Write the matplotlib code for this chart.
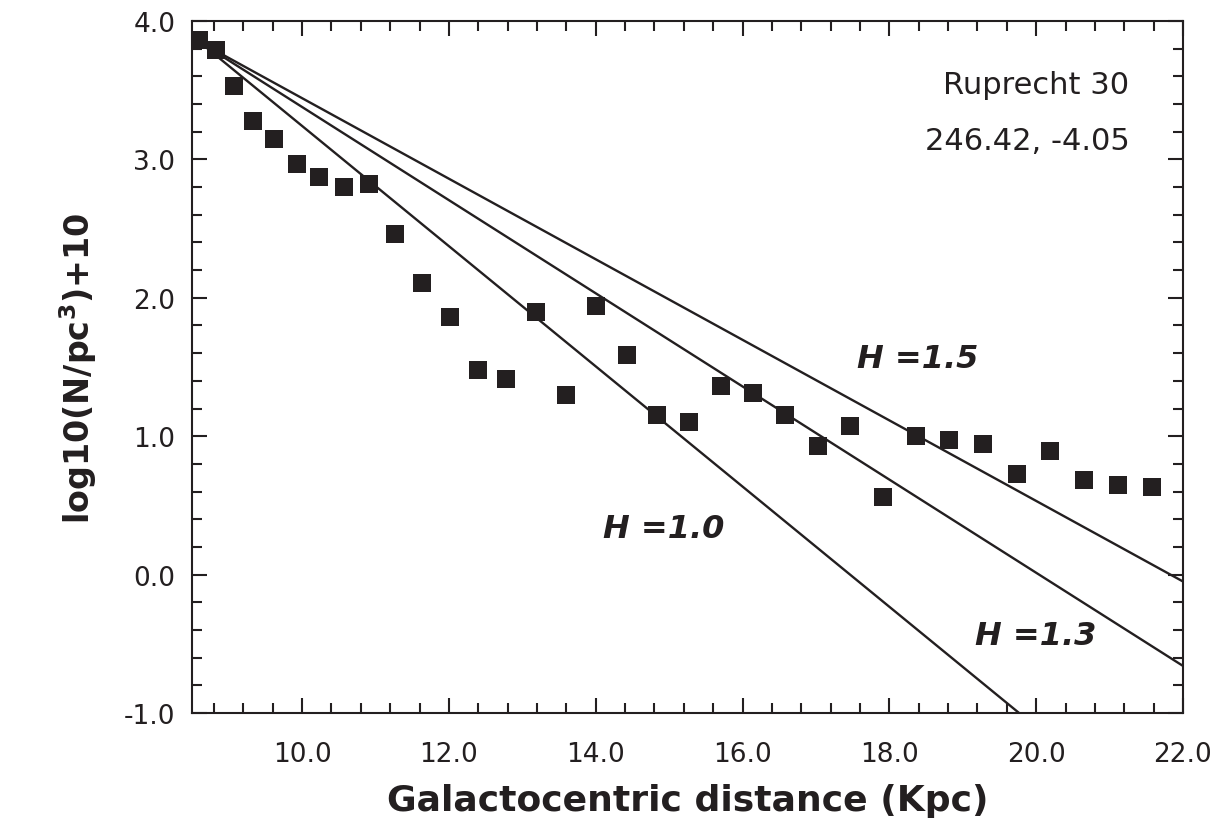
import matplotlib
matplotlib.use('Agg')
import matplotlib.pyplot as plt
from matplotlib.ticker import MultipleLocator, FormatStrFormatter

plt.rcParams['font.family'] = ['DejaVu Sans']
plt.rcParams['mathtext.fontset'] = 'dejavusans'

INK = '#231f20'

# observed density points (Ruprecht 30 direction)
dist = [8.59, 8.83, 9.07, 9.33, 9.62, 9.93, 10.23, 10.57, 10.91, 11.27,
        11.64, 12.01, 12.39, 12.78, 13.19, 13.59, 14.00, 14.42, 14.84, 15.27,
        15.70, 16.14, 16.58, 17.03, 17.46, 17.91, 18.36, 18.81, 19.28, 19.74,
        20.19, 20.65, 21.12, 21.58]
logn = [3.86, 3.79, 3.53, 3.28, 3.15, 2.97, 2.87, 2.80, 2.82, 2.46,
        2.11, 1.86, 1.48, 1.41, 1.90, 1.30, 1.94, 1.59, 1.15, 1.10,
        1.36, 1.31, 1.15, 0.93, 1.07, 0.56, 1.00, 0.97, 0.94, 0.73,
        0.89, 0.68, 0.65, 0.63]

# model lines (endpoints), scale lengths H
line_x = [8.6, 22.0]
line_h10 = [3.85, -1.97]
line_h13 = [3.85, -0.66]
line_h15 = [3.85, -0.05]

fig = plt.figure(figsize=(12.25, 8.37), dpi=100)
ax = fig.add_axes([0.1567, 0.1470, 0.8090, 0.8267])

for ys in (line_h10, line_h13, line_h15):
    ax.plot(line_x, ys, color=INK, linewidth=1.7, zorder=2)

ax.plot(dist, logn, 's', color=INK, markersize=13, markeredgewidth=0, zorder=3)

ax.set_xlim(8.5, 22.0)
ax.set_ylim(-1.0, 4.0)
ax.xaxis.set_major_locator(MultipleLocator(2.0))
ax.xaxis.set_minor_locator(MultipleLocator(0.4))
ax.yaxis.set_major_locator(MultipleLocator(1.0))
ax.yaxis.set_minor_locator(MultipleLocator(0.2))
ax.xaxis.set_major_formatter(FormatStrFormatter('%.1f'))
ax.yaxis.set_major_formatter(FormatStrFormatter('%.1f'))

ax.tick_params(which='both', direction='in', top=True, right=True,
               colors=INK, width=1.5)
ax.tick_params(which='major', length=10.8, labelsize=19)
ax.tick_params(axis='x', which='major', pad=20)
ax.tick_params(axis='y', which='major', pad=12)
ax.tick_params(which='minor', length=7.5)
for s in ax.spines.values():
    s.set_linewidth(1.5)
    s.set_color(INK)

ax.set_xlabel('Galactocentric distance (Kpc)', fontsize=26, fontweight='bold',
              color=INK, labelpad=12)
ax.set_ylabel(r'log10(N/pc$^{\mathbf{3}}$)+10', fontsize=24, fontweight='bold',
              color=INK, labelpad=18)

ax.text(21.27, 3.54, 'Ruprecht 30', fontsize=22, ha='right', va='center', color=INK)
ax.text(21.27, 3.14, '246.42, -4.05', fontsize=22, ha='right', va='center', color=INK)

hfont = dict(fontsize=23, fontweight='bold', fontstyle='italic', color=INK,
             ha='center', va='center')
ax.text(14.93, 0.33, 'H =1.0', **hfont)
ax.text(18.39, 1.56, 'H =1.5', **hfont)
ax.text(20.0, -0.44, 'H =1.3', **hfont)

fig.savefig('out.png', dpi=100)
